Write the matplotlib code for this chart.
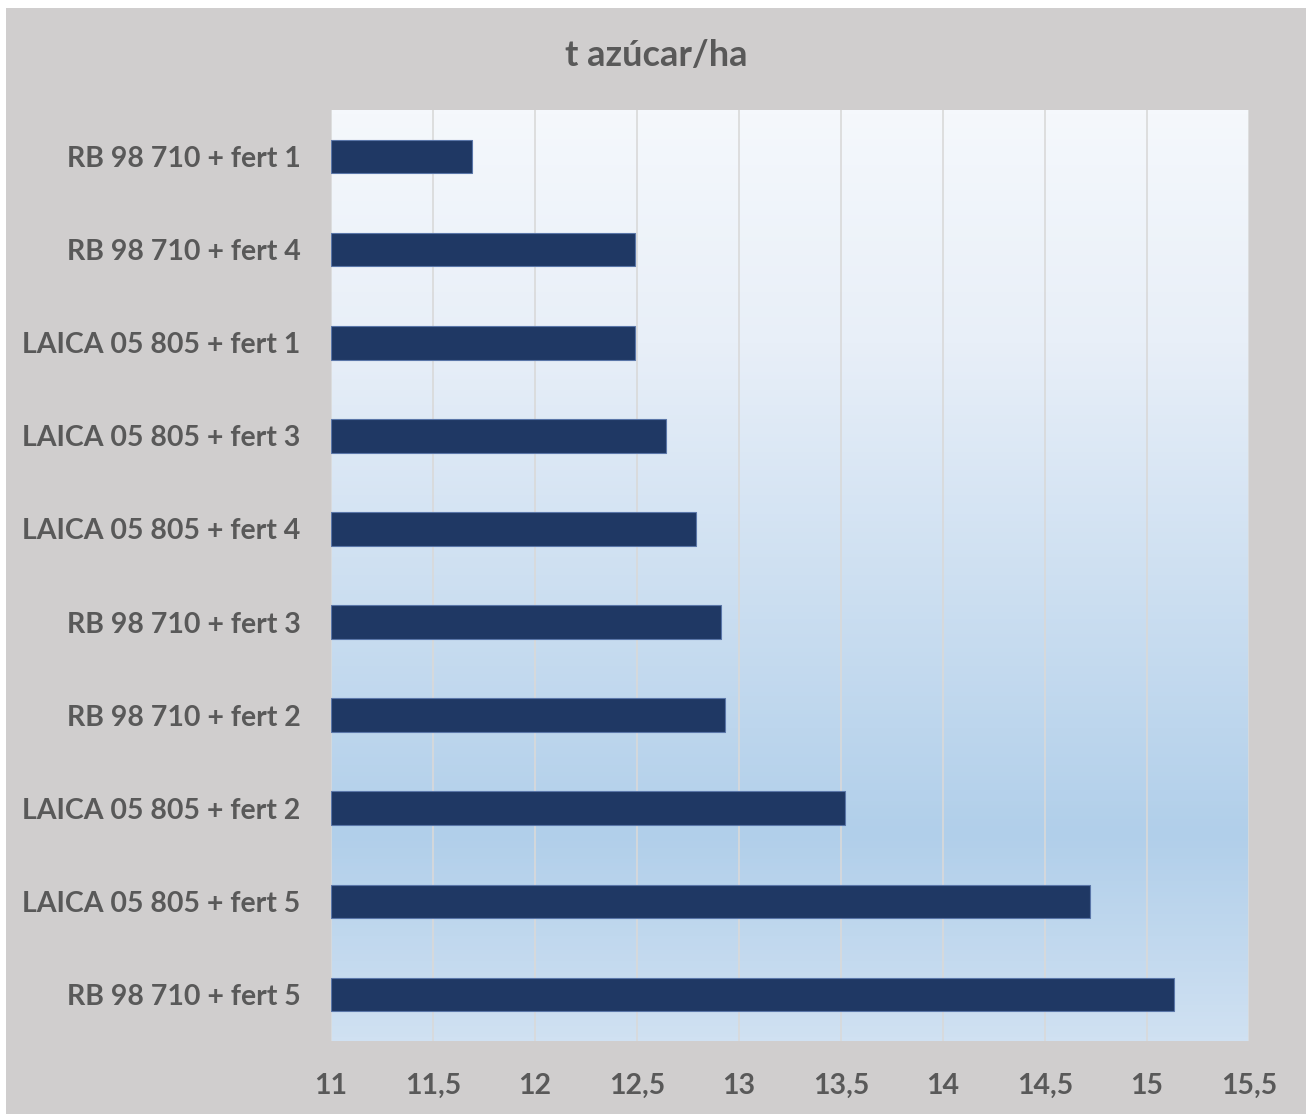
import numpy as np
import matplotlib.pyplot as plt
from matplotlib.colors import LinearSegmentedColormap
from matplotlib.patches import Rectangle

categories = [
    "RB 98 710 + fert 1",
    "RB 98 710 + fert 4",
    "LAICA 05 805 + fert 1",
    "LAICA 05 805 + fert 3",
    "LAICA 05 805 + fert 4",
    "RB 98 710 + fert 3",
    "RB 98 710 + fert 2",
    "LAICA 05 805 + fert 2",
    "LAICA 05 805 + fert 5",
    "RB 98 710 + fert 5",
]
values = [11.69, 12.49, 12.49, 12.64, 12.79, 12.91, 12.93, 13.52, 14.72, 15.13]
ticks = [11, 11.5, 12, 12.5, 13, 13.5, 14, 14.5, 15, 15.5]

plt.rcParams["font.family"] = ["Lato", "DejaVu Sans"]
text_color = "#595959"

fig = plt.figure(figsize=(13.09, 11.14), dpi=100)
fig.patch.set_facecolor("white")
# gray chart area framed by a thin white margin
fig.patches.append(Rectangle((6 / 1309, 0), 1300 / 1309, 1106 / 1114,
                             transform=fig.transFigure, facecolor="#d0cece",
                             edgecolor="none", zorder=-10))

ax = fig.add_axes([331 / 1309, 1 - 1041 / 1114, 918 / 1309, 931 / 1114])
ax.set_facecolor("none")

# vertical gradient behind the bars
cmap = LinearSegmentedColormap.from_list(
    "bg", [(0, "#f5f8fc"), (0.25, "#e8eff8"), (0.78, "#b1cfea"), (1.0, "#d0e1f2")])
grad = np.linspace(0, 1, 256).reshape(-1, 1)
ax.imshow(grad, cmap=cmap, aspect="auto", extent=[0, 1, 0, 1],
          transform=ax.transAxes, zorder=0)

y = np.arange(len(categories))
ax.barh(y, np.array(values) - 11, left=11, height=0.36, color="#1f3864",
        edgecolor="#5a76a8", linewidth=0.8, zorder=3)

ax.set_xlim(11, 15.5)
ax.set_ylim(len(categories) - 0.5, -0.5)
ax.set_xticks(ticks)
ax.set_xticklabels([f"{t:g}".replace(".", ",") for t in ticks])
ax.set_yticks(y)
ax.set_yticklabels(categories)
ax.tick_params(length=0, labelsize=20.5, labelcolor=text_color)
ax.tick_params(axis="x", pad=23)
ax.tick_params(axis="y", pad=22)
for lab in ax.get_xticklabels() + ax.get_yticklabels():
    lab.set_fontweight("bold")

ax.grid(axis="x", color="#d9d9d9", linewidth=1.2, zorder=1)
ax.set_axisbelow(True)
for s in ax.spines.values():
    s.set_visible(False)

fig.text(656 / 1309, 1 - 55 / 1114, "t azúcar/ha", ha="center", va="center",
         fontsize=26, fontweight="bold", color=text_color)

fig.savefig("out.png", dpi=100)
